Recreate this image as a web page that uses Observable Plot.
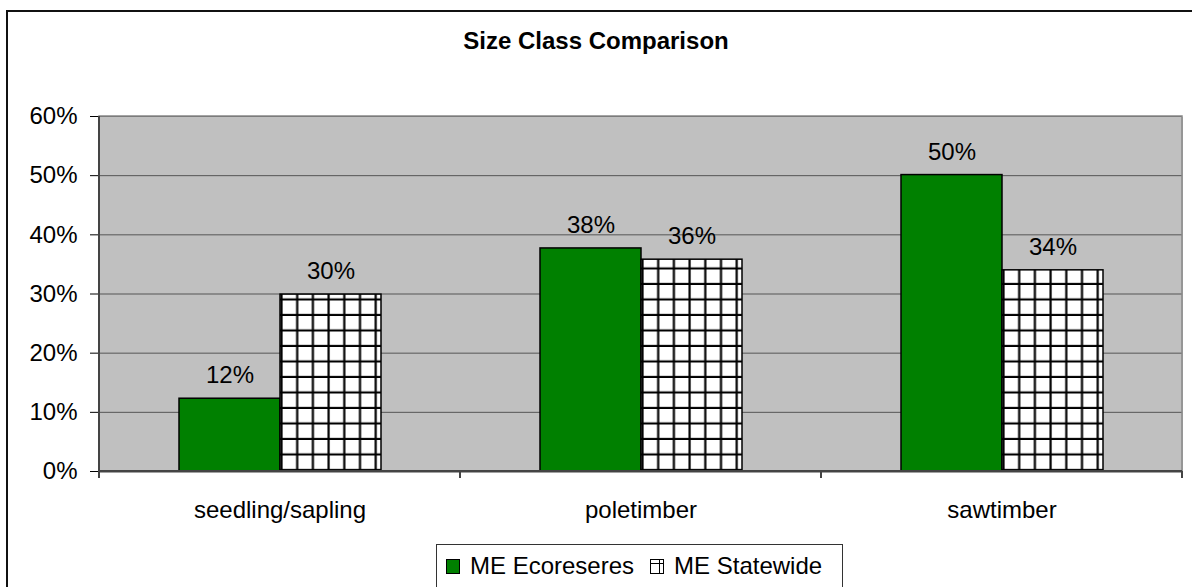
<!DOCTYPE html>
<html>
<head>
<meta charset="utf-8">
<script src="https://cdn.jsdelivr.net/npm/d3@7"></script>
<script src="https://cdn.jsdelivr.net/npm/@observablehq/plot@0.6"></script>
<style>
  html, body { margin: 0; padding: 0; background: #fff; }
  body { width: 1192px; height: 587px; overflow: hidden; position: relative; font-family: "Liberation Sans", Arial, sans-serif; color: #000; }
  #frame { position: absolute; left: 6px; top: 10px; width: 1250px; height: 650px; border-left: 2px solid #111; border-top: 2px solid #111; box-sizing: border-box; }
  #title { position: absolute; left: 0; top: 27px; width: 1192px; text-align: center; font-weight: bold; font-size: 24px; line-height: 28px; }
  #chart { position: absolute; left: 0; top: 70px; }
  #legend { position: absolute; left: 436px; top: 544px; width: 407px; height: 46px; border: 1px solid #333; box-sizing: border-box; display: flex; align-items: center; padding-left: 9px; font-size: 24px; line-height: 26px; padding-bottom: 2px; }
  .item { display: flex; align-items: center; }
  .sw { width: 14px; height: 15px; margin-right: 10px; display: block; }
  .gap { width: 16px; }
</style>
</head>
<body>
<div id="frame"></div>
<div id="title">Size Class Comparison</div>
<div id="chart"></div>
<div id="legend"></div>
<script>
// ---- data ----
const categories = ["seedling/sapling", "poletimber", "sawtimber"];
const series = ["ME Ecoreseres", "ME Statewide"];
const ecoreseres = [12.3, 37.7, 50.1];
const statewide = [29.9, 35.8, 34.0];
const yTicks = [0, 10, 20, 30, 40, 50, 60];

const rowsEco = categories.map((c, i) => ({category: c, series: series[0], value: ecoreseres[i]}));
const rowsState = categories.map((c, i) => ({category: c, series: series[1], value: statewide[i]}));
const rows = rowsEco.concat(rowsState);

const chart = Plot.plot({
  width: 1192,
  height: 470,
  marginTop: 46,
  marginBottom: 69,
  marginLeft: 99,
  marginRight: 10,
  style: {fontFamily: "Liberation Sans, Arial, sans-serif", fontSize: "24px", color: "#000", background: "transparent", overflow: "visible"},
  fx: {domain: categories, padding: 0, label: null, tickSize: 0, tickPadding: 29, axis: "bottom"},
  x: {domain: series, paddingInner: 0, paddingOuter: 0.77, axis: null},
  y: {domain: [0, 60], ticks: yTicks, tickFormat: d => d + "%", tickSize: 9, tickPadding: 13, label: null, axis: "left"},
  marks: [
    Plot.frame({fill: "#C0C0C0", stroke: "none", shapeRendering: "crispEdges"}),
    Plot.ruleY(yTicks.slice(1), {stroke: "#555", strokeWidth: 1}),
    Plot.barY(rowsEco, {fx: "category", x: "series", y: "value", fill: "#008000", stroke: "#000", strokeWidth: 1.5}),
    Plot.barY(rowsState, {fx: "category", x: "series", y: "value", fill: "url(#grid)", stroke: "#000", strokeWidth: 1.5}),
    Plot.ruleY([0], {stroke: "#444", strokeWidth: 2}),
    Plot.text(rows, {fx: "category", x: "series", y: "value", text: d => Math.round(d.value) + "%", dy: -23, fontSize: 24, fill: "#000"})
  ]
});

document.getElementById("chart").append(chart);

// ---- decorations from the library's scales ----
const svg = d3.select(chart);
const fxS = chart.scale("fx");
const yS = chart.scale("y");
const bw = fxS.bandwidth;
const left = fxS.apply(categories[0]);
const right = fxS.apply(categories[categories.length - 1]) + bw;
const y0 = yS.apply(0);
const yTop = yS.apply(60);

const deco = svg.append("g");
deco.append("rect").attr("x", left).attr("y", yTop).attr("width", right - left).attr("height", y0 - yTop)
  .attr("fill", "none").attr("stroke", "#888").attr("stroke-width", 1.5);
const bounds = categories.map(c => fxS.apply(c)).concat([right]);
bounds.forEach(b => {
  deco.append("line").attr("x1", b).attr("x2", b).attr("y1", y0).attr("y2", y0 + 7)
    .attr("stroke", "#444").attr("stroke-width", 2);
});
deco.append("line").attr("x1", left).attr("x2", left).attr("y1", yTop).attr("y2", y0 + 1)
  .attr("stroke", "#444").attr("stroke-width", 2);
deco.append("line").attr("x1", left).attr("x2", right).attr("y1", y0).attr("y2", y0)
  .attr("stroke", "#444").attr("stroke-width", 2);

// hatch pattern aligned to the first hatched bar
const svgBox = chart.getBoundingClientRect();
const hatchRect = chart.querySelector('g[fill="url(#grid)"] rect');
let px = 279.5;
if (hatchRect) px = hatchRect.getBoundingClientRect().left - svgBox.left;
const tw = 15.7, th = 15.5;
const defs = svg.insert("defs", ":first-child");
const pat = defs.append("pattern").attr("id", "grid").attr("patternUnits", "userSpaceOnUse")
  .attr("width", tw).attr("height", th).attr("x", px).attr("y", y0 - th);
pat.append("rect").attr("width", tw).attr("height", th).attr("fill", "#fff");
pat.append("line").attr("x1", 1.5).attr("x2", 1.5).attr("y1", 0).attr("y2", th).attr("stroke", "#000").attr("stroke-width", 2.2);
pat.append("line").attr("x1", 0).attr("x2", tw).attr("y1", th - 1).attr("y2", th - 1).attr("stroke", "#000").attr("stroke-width", 2.2);

// ---- legend ----
const legend = d3.select("#legend");
const it1 = legend.append("div").attr("class", "item");
it1.append("span").attr("class", "sw").style("background", "#008000").style("border", "1px solid #000").style("box-sizing", "border-box");
it1.append("span").text(series[0]);
legend.append("div").attr("class", "gap");
const it2 = legend.append("div").attr("class", "item");
const sw2 = it2.append("svg").attr("class", "sw").attr("width", 14).attr("height", 15);
sw2.append("rect").attr("x", 0.5).attr("y", 0.5).attr("width", 13).attr("height", 14).attr("fill", "#fff").attr("stroke", "#000");
sw2.append("line").attr("x1", 0).attr("x2", 14).attr("y1", 4.5).attr("y2", 4.5).attr("stroke", "#000");
sw2.append("line").attr("x1", 9.5).attr("x2", 9.5).attr("y1", 0).attr("y2", 15).attr("stroke", "#000");
it2.append("span").text(series[1]);
</script>
</body>
</html>
